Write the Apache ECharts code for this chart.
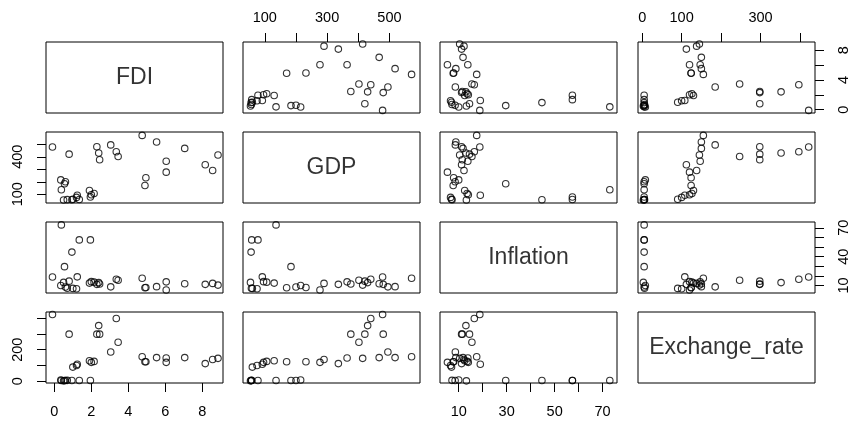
<!DOCTYPE html>
<html><head><meta charset="utf-8">
<script src="https://cdn.jsdelivr.net/npm/echarts@6/dist/echarts.min.js"></script>
<style>html,body{margin:0;padding:0;background:#fff}#c{width:851px;height:425px}</style>
</head><body><div id="c"></div>
<script>
const varNames = ['FDI', 'GDP', 'Inflation', 'Exchange_rate'];
const FDI = [-0.1, 0.8, 2.4, 2.3, 2.45, 3.35, 3.45, 3.05, 4.75, 4.9, 4.95, 5.53, 6.05, 6.05, 7.05, 8.16, 8.56, 8.85, 1.9, 2.15, 2.0, 1.24, 1.2, 1.0, 0.38, 0.55, 1.35, 1.95, 0.95, 0.35, 0.6, 0.5, 0.7];
const GDP = [478, 421, 430, 480, 376, 440, 402, 495, 571, 170, 232, 518, 364, 277, 467, 336, 290, 414, 130, 106, 96, 92, 75, 60, 136, 184, 58, 78, 56, 215, 200, 54, 57];
const Inflation = [18.8, 14.5, 13, 11.2, 11.5, 16.5, 15.5, 8.6, 17.5, 7.7, 7.9, 8.8, 13.8, 5.3, 11.8, 11.2, 12.2, 10.4, 12.5, 13.5, 14, 19, 6.6, 7, 73, 29.6, 57.4, 57.4, 44.7, 10, 8.5, 13.2, 7.2];
const Exchange_rate = [422, 298, 352, 298, 298, 397, 247, 185, 155, 124, 124, 150, 147, 120, 150, 112, 138, 145, 130, 126, 120, 108, 100, 90, 5, 5, 5, 5, 5, 8, 5, 3, 6];

const tickValues = [[0, 2, 4, 6, 8], [100, 200, 300, 400, 500], [10, 20, 30, 40, 50, 60, 70], [0, 100, 200, 300, 400]];
const bottomLabels = {0: [0, 2, 4, 6, 8], 2: [10, 30, 50, 70]};
const topLabels = {1: [100, 300, 500], 3: [0, 100, 300]};
const leftLabels = {1: [100, 400], 3: [0, 200]};
const rightLabels = {0: [0, 4, 8], 2: [10, 40, 70]};
const axisRanges = [[-0.45, 9.12], [30, 598], [2.2, 76], [-10.6, 438]];

const vars = [FDI, GDP, Inflation, Exchange_rate];
const colLeft = [46, 243, 440, 638];
const rowTop = [42, 132, 222, 312];
const W = 177, H = 71;
const FONT = '"Liberation Sans", Arial, sans-serif';

const grid = [], xAxis = [], yAxis = [], series = [];
for (let i = 0; i < 4; i++) {
  for (let j = 0; j < 4; j++) {
    const k = i * 4 + j;
    grid.push({left: colLeft[j], top: rowTop[i], width: W, height: H, show: true,
      borderColor: '#000', borderWidth: 1, backgroundColor: 'transparent', containLabel: false});
    const diag = i === j;
    const xTop = i === 0 && topLabels[j] && !diag;
    const xBot = i === 3 && bottomLabels[j] && !diag;
    const xShow = !!(xTop || xBot);
    const xl = xTop ? topLabels[j] : (xBot ? bottomLabels[j] : []);
    xAxis.push({
      gridIndex: k, type: 'value',
      min: diag ? 0 : axisRanges[j][0], max: diag ? 1 : axisRanges[j][1],
      position: xTop ? 'top' : 'bottom',
      splitLine: {show: false}, axisLine: {show: false, onZero: false},
      axisTick: {show: xShow, length: 9, lineStyle: {color: '#000', width: 1},
        customValues: diag ? undefined : tickValues[j]},
      axisLabel: {show: xShow, customValues: xl, color: '#000', fontSize: 14.5, fontFamily: FONT,
        margin: xTop ? 17 : 21}
    });
    const yLeft = j === 0 && leftLabels[i] && !diag;
    const yRight = j === 3 && rightLabels[i] && !diag;
    const yShow = !!(yLeft || yRight);
    const yl = yLeft ? leftLabels[i] : (yRight ? rightLabels[i] : []);
    yAxis.push({
      gridIndex: k, type: 'value',
      min: diag ? 0 : axisRanges[i][0], max: diag ? 1 : axisRanges[i][1],
      position: yRight ? 'right' : 'left',
      splitLine: {show: false}, axisLine: {show: false, onZero: false},
      axisTick: {show: yShow, length: 9, lineStyle: {color: '#000', width: 1},
        customValues: diag ? undefined : tickValues[i]},
      axisLabel: {show: yShow, customValues: yl, color: '#000', fontSize: 14.5, fontFamily: FONT,
        rotate: 90, margin: 21}
    });
    if (diag) {
      series.push({type: 'scatter', xAxisIndex: k, yAxisIndex: k, symbolSize: 0,
        data: [{value: [0.5, 0.5], name: varNames[i]}], silent: true,
        label: {show: true, position: 'inside', formatter: '{b}', color: '#000', fontSize: 23, fontFamily: FONT}});
    } else {
      series.push({type: 'scatter', xAxisIndex: k, yAxisIndex: k, symbol: 'circle', symbolSize: 6.5,
        silent: true, animation: false,
        itemStyle: {color: 'rgba(0,0,0,0)', borderColor: '#000', borderWidth: 1.1},
        data: vars[j].map((v, n) => [v, vars[i][n]])});
    }
  }
}
const chart = echarts.init(document.getElementById('c'), null, {renderer: 'canvas'});
chart.setOption({animation: false, backgroundColor: '#fff', grid, xAxis, yAxis, series});
</script></body></html>
